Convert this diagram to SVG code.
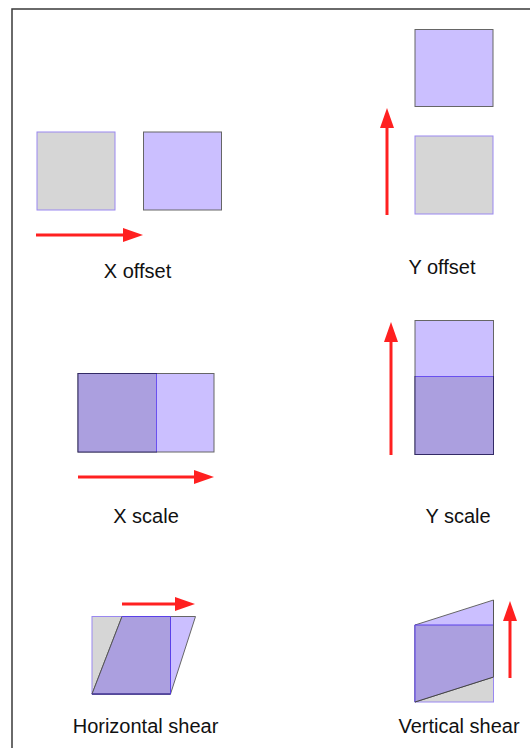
<svg xmlns="http://www.w3.org/2000/svg" width="530" height="748" viewBox="0 0 530 748">
<style>
.frame{fill:none;stroke:#3a3a3a;stroke-width:1.5}
.gray{fill:#d6d6d6;stroke:#9a88f0;stroke-width:1}
.lite{fill:#cbbfff;stroke:#666;stroke-width:1}
.dark{fill:#ab9fdf;stroke:#332a66;stroke-width:1}
.div{stroke:#6a50f0;stroke-width:1;fill:none}
.arr{stroke:#ff2020;stroke-width:3;fill:none;marker-end:url(#ah)}
.lbl{font-family:"Liberation Sans",Arial,sans-serif;font-size:20px;fill:#111;text-anchor:middle}
</style>
<defs>
<marker id="ah" viewBox="0 0 20 14" refX="0" refY="7" markerWidth="20" markerHeight="14" markerUnits="userSpaceOnUse" orient="auto">
<path d="M0,0 L20,7 L0,14 z" fill="#ff2020"/>
</marker>
</defs>
<rect width="530" height="748" fill="#fff"/>
<rect class="frame" x="12" y="9" width="540" height="760"/>
<g id="x-offset">
<rect class="gray" x="37" y="132" width="78" height="78"/>
<rect class="lite" x="143.5" y="132" width="78" height="78"/>
<text class="lbl" x="137.5" y="278">X offset</text>
</g>
<g id="y-offset">
<rect class="lite" x="415" y="29.5" width="78" height="77"/>
<rect class="gray" x="415" y="136" width="78" height="78"/>
<text class="lbl" x="442" y="274">Y offset</text>
</g>
<g id="x-scale">
<rect class="lite" x="78" y="373.5" width="136" height="78.5"/>
<rect class="dark" x="78" y="373.5" width="78.5" height="78.5"/>
<line class="div" x1="156.5" y1="374" x2="156.5" y2="451.5"/>
<text class="lbl" x="146" y="523">X scale</text>
</g>
<g id="y-scale">
<rect class="lite" x="415" y="320.5" width="78.5" height="134"/>
<rect class="dark" x="415" y="376.5" width="78.5" height="78"/>
<line class="div" x1="415.5" y1="376.5" x2="493" y2="376.5"/>
<text class="lbl" x="458" y="523">Y scale</text>
</g>
<g id="horizontal-shear">
<rect class="gray" x="92" y="616.5" width="78.5" height="77.5"/>
<polygon class="lite" points="122,616.5 195.5,616.5 170.5,694 92,694"/>
<polygon points="122,616.5 170.5,616.5 170.5,694 92,694" fill="#ab9fdf"/>
<line x1="92" y1="694" x2="122" y2="616.5" stroke="#555" stroke-width="1"/>
<polyline points="122,616.5 170.5,616.5 170.5,694 92,694" fill="none" stroke="#5a40e8" stroke-width="1"/>
<line x1="92" y1="694" x2="170.5" y2="694" stroke="#332a66" stroke-width="1"/>
<text class="lbl" x="145.5" y="733">Horizontal shear</text>
</g>
<g id="vertical-shear">
<rect class="gray" x="415" y="625" width="78.5" height="77"/>
<polygon class="lite" points="415,625 493.5,600 493.5,677 415,702"/>
<polygon points="415,625 493.5,625 493.5,677 415,702" fill="#ab9fdf"/>
<polyline points="493.5,625 415,625 415,702" fill="none" stroke="#5a40e8" stroke-width="1"/>
<line x1="415" y1="702" x2="493.5" y2="677" stroke="#444" stroke-width="1"/>
<line x1="493.5" y1="600" x2="493.5" y2="677" stroke="#555" stroke-width="1"/>
<text class="lbl" x="459" y="733">Vertical shear</text>
</g>
<g id="connectors">
<line class="arr" x1="36" y1="235" x2="123" y2="235"/>
<line class="arr" x1="387" y1="215" x2="387" y2="128"/>
<line class="arr" x1="78" y1="477" x2="194" y2="477"/>
<line class="arr" x1="391" y1="455" x2="391" y2="342"/>
<line class="arr" x1="122" y1="604" x2="175" y2="604"/>
<line class="arr" x1="510" y1="678" x2="510" y2="621"/>
</g>
</svg>
